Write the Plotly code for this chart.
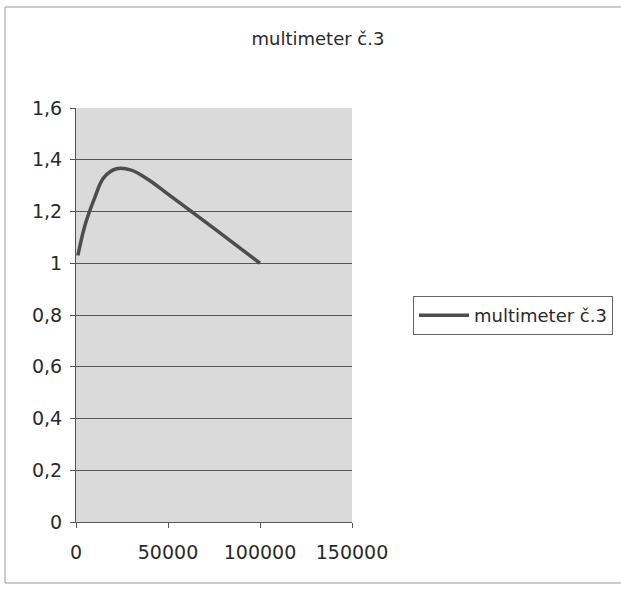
import plotly.graph_objects as go

freq = [1000, 5000, 10000, 15000, 22000, 30000, 40000, 50000, 62000, 75000, 100000]
ratio = [1.03, 1.15, 1.25, 1.33, 1.365, 1.36, 1.32, 1.267, 1.204, 1.135, 1.0]

x_ticks = [0, 50000, 100000, 150000]
x_labels = ["0", "50000", "100000", "150000"]
y_ticks = [0, 0.2, 0.4, 0.6, 0.8, 1, 1.2, 1.4, 1.6]
y_labels = ["0", "0,2", "0,4", "0,6", "0,8", "1", "1,2", "1,4", "1,6"]

name = "multimeter č.3"

fig = go.Figure()
fig.add_trace(go.Scatter(
    x=freq, y=ratio, mode="lines", name=name,
    line=dict(color="#4d4d4d", width=3.5, shape="spline", smoothing=1.0),
))

font_family = "DejaVu Sans, Arial"
axis_font = dict(family=font_family, size=19, color="#2a2a2a")

fig.update_layout(
    width=621, height=590,
    margin=dict(l=76, r=269, t=108, b=68),
    paper_bgcolor="white",
    plot_bgcolor="#dadada",
    title=dict(text=name, xref="container", x=0.512, xanchor="center",
               yref="container", y=0.935, yanchor="middle",
               font=dict(family=font_family, size=18, color="#2a2a2a")),
    showlegend=True,
    legend=dict(xref="container", yref="container",
                x=413 / 621, xanchor="left", y=1 - 315.5 / 590, yanchor="middle",
                bordercolor="#666666", borderwidth=1, bgcolor="white",
                font=dict(family=font_family, size=18, color="#2a2a2a"),
                itemwidth=50, tracegroupgap=0),
    xaxis=dict(range=[0, 150000], tickvals=x_ticks, ticktext=x_labels,
               showgrid=False, zeroline=False, showline=True, linecolor="#555555",
               ticks="outside", ticklen=5, tickcolor="#555555", tickfont=axis_font,
               ticklabelstandoff=8, automargin=False),
    yaxis=dict(range=[0, 1.6], tickvals=y_ticks, ticktext=y_labels,
               showgrid=True, gridcolor="#555555", gridwidth=1, zeroline=False,
               showline=True, linecolor="#555555",
               ticks="outside", ticklen=5, tickcolor="#555555", tickfont=axis_font,
               ticklabelstandoff=4, automargin=False),
)

# chart-area border (right edge falls outside the picture, as in the scan)
fig.add_shape(type="rect", xref="paper", yref="paper",
              x0=(5 - 76) / 276, x1=(700 - 76) / 276,
              y0=(522 - 583) / 414, y1=(522 - 7) / 414,
              line=dict(color="#999999", width=1), layer="below")

fig.write_html("out.html", config={"displayModeBar": False},
               post_script="document.body.style.margin='0';")
